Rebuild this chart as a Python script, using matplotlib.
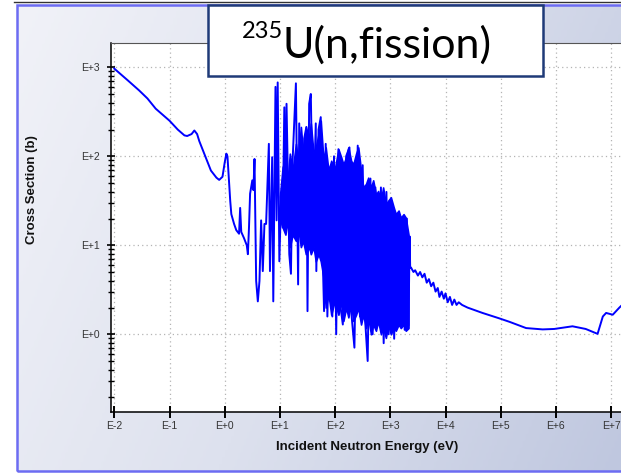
import numpy as np
import matplotlib.pyplot as plt
from matplotlib.patches import Rectangle
from matplotlib.colors import LinearSegmentedColormap
from matplotlib.ticker import LogLocator, NullLocator

# ---------- Figure size in pixels ----------
W, H = 621, 473

def fx(px):
    return px / W

def fy(py):
    return 1 - py / H

# ---------- Data (log10 of energy in eV, log10 of cross section in b) ----------
res_log_e = [
    -2.00, -1.75, -1.55, -1.40, -1.25, -1.00, -0.85, -0.73, -0.68, -0.60,
    -0.55, -0.50, -0.46, -0.37, -0.25, -0.15, -0.10, -0.04, 0.00, 0.03,
    0.05, 0.07, 0.10, 0.12, 0.17, 0.21, 0.26, 0.28, 0.30, 0.35,
    0.40, 0.42, 0.44, 0.46, 0.50, 0.52, 0.54, 0.57, 0.60, 0.63,
    0.66, 0.69, 0.72, 0.75, 0.80, 0.82, 0.86, 0.88, 0.92, 0.94,
    0.96, 0.99, 1.02, 1.05, 1.08, 1.10, 1.12, 1.17, 1.20, 1.23,
    1.29, 1.33, 1.35, 1.40, 1.44, 1.48, 1.50, 1.53, 1.56, 1.60,
    1.65, 1.66, 1.70, 1.74, 1.77, 1.80, 1.83, 1.86, 1.92, 1.95,
    1.98, 2.02, 2.06, 2.10, 2.14, 2.20, 2.26, 2.30, 2.35, 2.41,
    2.45, 2.50, 2.55, 2.59, 2.64, 2.68, 2.73, 2.78, 2.83, 2.88,
    2.93, 2.97, 3.02, 3.07, 3.12, 3.16, 3.21, 3.26, 3.30, 3.33,
    3.35, 3.36,
]
res_log_xs = [
    2.985, 2.85, 2.74, 2.65, 2.535, 2.40, 2.30, 2.235, 2.228, 2.25,
    2.29, 2.25, 2.17, 2.03, 1.84, 1.76, 1.735, 1.77, 1.93, 2.03,
    2.00, 1.80, 1.50, 1.35, 1.24, 1.17, 1.13, 1.42, 1.15, 1.08,
    1.00, 0.90, 1.20, 1.58, 1.73, 1.62, 1.97, 0.60, 0.37, 0.60,
    1.28, 0.71, 1.24, 1.24, 2.14, 0.71, 1.99, 0.37, 2.78, 1.28,
    2.83, 0.82, 1.50, 1.20, 2.55, 1.30, 2.59, 0.90, 0.68, 1.95,
    2.82, 0.56, 2.37, 1.10, 2.20, 2.33, 0.26, 2.59, 2.70, 1.20,
    2.37, 0.71, 2.30, 2.44, 1.00, 0.26, 2.14, 0.20, 1.85, 0.20,
    2.00, 0.00, 2.08, 0.30, 0.11, 2.00, 2.10, 0.20, -0.15, 2.12,
    0.20, 1.90, 0.10, -0.30, 1.75, 0.00, 1.65, 0.20, 1.65, -0.10,
    1.60, 0.00, 1.40, -0.05, 1.35, 0.10, 1.30, 0.05, 1.30, 0.10,
    1.10, 0.75,
]

# dense resolved-resonance band (upper / lower edge of the filled area)
band_log_e = [
    1.00, 1.05, 1.10, 1.14, 1.18, 1.23, 1.29, 1.33, 1.38, 1.42,
    1.47, 1.53, 1.56, 1.61, 1.65, 1.70, 1.74, 1.79, 1.83, 1.88,
    1.93, 1.99, 2.06, 2.11, 2.15, 2.20, 2.24, 2.29, 2.33, 2.38,
    2.42, 2.47, 2.51, 2.56, 2.60, 2.65, 2.69, 2.74, 2.78, 2.83,
    2.87, 2.92, 2.96, 3.01, 3.06, 3.10, 3.15, 3.19, 3.24, 3.28,
    3.33,
]
band_log_hi = [
    1.55, 1.88, 1.95, 1.73, 2.03, 1.84, 2.14, 1.95, 2.33, 2.03,
    2.33, 2.21, 2.37, 2.03, 2.10, 2.25, 2.40, 1.95, 2.10, 1.84,
    1.95, 1.84, 2.08, 1.99, 1.91, 1.99, 2.10, 1.95, 1.91, 2.03,
    2.10, 1.84, 1.65, 1.69, 1.76, 1.65, 1.73, 1.57, 1.61, 1.50,
    1.65, 1.46, 1.50, 1.54, 1.43, 1.35, 1.39, 1.31, 1.35, 1.31,
    1.12,
]
band_log_lo = [
    1.30, 1.20, 1.12, 1.28, 0.98, 1.12, 1.05, 1.20, 0.98, 1.05,
    0.90, 0.98, 0.90, 0.98, 0.82, 0.90, 0.82, 0.64, 0.30, 0.45,
    0.22, 0.37, 0.22, 0.37, 0.15, 0.30, 0.19, 0.34, 0.15, 0.22,
    0.30, 0.11, 0.22, 0.07, 0.19, 0.00, 0.11, 0.04, 0.15, 0.00,
    0.07, -0.04, 0.11, 0.00, 0.07, 0.04, 0.11, 0.07, 0.11, 0.04,
    0.07,
]

high_log_e = [
    3.375, 3.42, 3.45, 3.50, 3.54, 3.58, 3.62, 3.66, 3.70, 3.74,
    3.78, 3.82, 3.86, 3.89, 3.93, 3.97, 4.00, 4.04, 4.08, 4.12,
    4.16, 4.20, 4.24, 4.30, 4.40, 4.67, 4.97, 5.16, 5.46, 5.76,
    5.97, 6.30, 6.54, 6.755, 6.85, 6.91, 7.03, 7.15, 7.25,
]
high_log_xs = [
    0.75, 0.70, 0.72, 0.66, 0.70, 0.64, 0.68, 0.58, 0.62, 0.54,
    0.58, 0.48, 0.52, 0.42, 0.48, 0.40, 0.46, 0.36, 0.42, 0.33,
    0.39, 0.33, 0.36, 0.33, 0.30, 0.24, 0.18, 0.14, 0.07, 0.055,
    0.06, 0.09, 0.06, 0.005, 0.20, 0.24, 0.22, 0.30, 0.36,
]

x_tick_exp = [-2, -1, 0, 1, 2, 3, 4, 5, 6, 7]
x_tick_labels = ["E-2", "E-1", "E+0", "E+1", "E+2", "E+3", "E+4", "E+5", "E+6", "E+7"]
y_tick_exp = [0, 1, 2, 3]
y_tick_labels = ["E+0", "E+1", "E+2", "E+3"]

# ---------- Figure ----------
fig = plt.figure(figsize=(W / 100, H / 100), dpi=100)
fig.patch.set_facecolor("white")

# gradient panel behind the chart
bg = fig.add_axes([fx(17), fy(471), 1.0 - fx(17), fy(5) - fy(471)], zorder=-5)
grad_cmap = LinearSegmentedColormap.from_list("panel", ["#f1f2f8", "#dde1ee", "#bfc7df"])
gx, gy = np.meshgrid(np.linspace(0, 1, 200), np.linspace(0, 1, 200))
bg.imshow(0.75 * gx + 0.25 * gy, cmap=grad_cmap, aspect="auto", extent=(0, 1, 0, 1), origin="upper")
bg.set_xlim(0, 1)
bg.set_ylim(0, 1)
bg.axis("off")
fig.add_artist(Rectangle((fx(17), fy(471)), 1.2, fy(5) - fy(471), transform=fig.transFigure,
                         fill=False, edgecolor="#6c6cf2", linewidth=1.8, zorder=-4))
fig.add_artist(plt.Line2D([fx(14), 1.0], [fy(2), fy(2)], transform=fig.transFigure,
                          color="#333333", linewidth=1.0, zorder=-4))

# ---------- Main axes ----------
ax = fig.add_axes([fx(111), fy(411.7), 1.0 - fx(111), fy(43) - fy(411.7)], zorder=1)
ax.set_facecolor("white")
ax.set_xscale("log")
ax.set_yscale("log")

e_all = 10.0 ** np.array(res_log_e + high_log_e)
xs_all = 10.0 ** np.array(res_log_xs + high_log_xs)
ax.fill_between(10.0 ** np.array(band_log_e), 10.0 ** np.array(band_log_lo),
                10.0 ** np.array(band_log_hi), color="#0000ff", linewidth=1.2, zorder=3)
ax.plot(e_all, xs_all, color="#0000ff", linewidth=1.4, zorder=4)

ax.set_xlim(10 ** (-2 + (111 - 114.3) / 55.2), 10 ** (-2 + (621 - 114.3) / 55.2))
ax.set_ylim(10 ** (3 - (411.7 - 67.3) / 89.0), 10 ** (3 + (67.3 - 43) / 89.0))

ax.set_xticks([10.0 ** e for e in x_tick_exp])
ax.set_xticklabels(x_tick_labels)
ax.set_yticks([10.0 ** e for e in y_tick_exp])
ax.set_yticklabels(y_tick_labels)
ax.xaxis.set_minor_locator(NullLocator())
ax.yaxis.set_minor_locator(LogLocator(base=10, subs=np.arange(2, 10)))

for lab in ax.get_xticklabels() + ax.get_yticklabels():
    lab.set_fontfamily("Liberation Sans")
ax.tick_params(axis="x", which="major", direction="inout", length=9, width=1.4,
               labelsize=7.5, labelcolor="#333333", pad=2)
ax.tick_params(axis="y", which="major", direction="inout", length=6, width=1.2,
               labelsize=7.5, labelcolor="#333333", pad=5)
ax.tick_params(axis="y", which="minor", direction="inout", length=4, width=1.0)

ax.grid(True, which="major", linestyle=(0, (1, 2.5)), color="#b4b4b4", linewidth=0.9)
ax.set_axisbelow(True)
ax.spines["right"].set_visible(False)
ax.spines["top"].set_color("#555555")
ax.spines["left"].set_linewidth(1.1)
ax.spines["bottom"].set_linewidth(1.1)

fig.text(fx(367), fy(447), "Incident Neutron Energy (eV)", ha="center", va="center",
         fontsize=9.5, fontweight="bold", family="Liberation Sans", color="#111111")
fig.text(fx(32), fy(190), "Cross Section (b)", ha="center", va="center", rotation=90,
         fontsize=9.5, fontweight="bold", family="Liberation Sans", color="#111111")

# ---------- Title box ----------
fig.add_artist(Rectangle((fx(208), fy(76)), fx(543) - fx(208), fy(5) - fy(76),
                         transform=fig.transFigure, facecolor="white",
                         edgecolor="#1f3a78", linewidth=1.8, zorder=5))
fig.text(fx(283), fy(58), "U(n,fission)", ha="left", va="baseline", fontsize=31,
         family="Lato", color="black", zorder=6)
fig.text(fx(283), fy(38), "235", ha="right", va="baseline", fontsize=17,
         family="Lato", color="black", zorder=6)

fig.savefig("out.png", dpi=100)
